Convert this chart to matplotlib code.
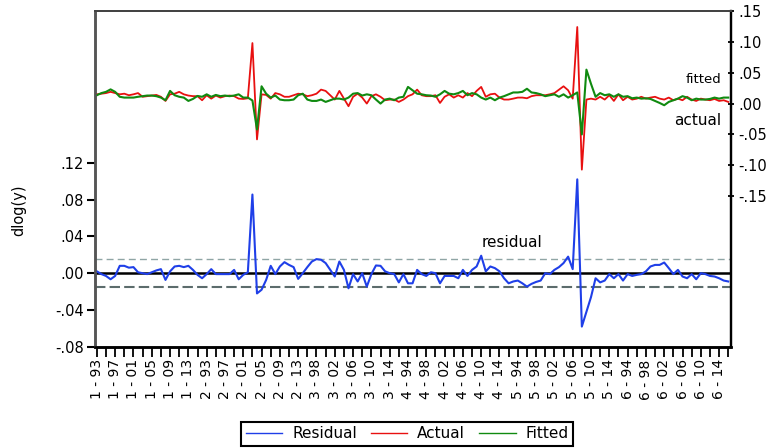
import matplotlib.pyplot as plt
import numpy as np

# panel: (cross-section id, first year, last year)
sections = [(1, 1993, 2016), (2, 1993, 2016), (3, 1998, 2016),
            (4, 1993, 2016), (5, 1993, 2016), (6, 1993, 2016)]

residual = [0.002, -0.001, -0.003, -0.0066, -0.003, 0.008, 0.008, 0.006, 0.0066, 0.001,
            0.0, -0.001, 0.001, 0.003, 0.0044, -0.0073, 0.002, 0.0073, 0.008, 0.0066,
            0.008, 0.0036, -0.0018, -0.0055, -0.001, 0.0044, -0.001, -0.001, -0.001, -0.001,
            0.0036, -0.0066, -0.0018, 0.001, 0.0855, -0.022, -0.018, -0.0073, 0.008, -0.001,
            0.0073, 0.012, 0.009, 0.0066, -0.0062, 0.0, 0.0066, 0.0127, 0.0153, 0.0146,
            0.011, 0.0036, -0.0036, 0.0127, 0.0036, -0.0164, -0.001, -0.009, 0.0, -0.0146,
            -0.001, 0.0084, 0.008, 0.002, 0.0, -0.001, -0.010, -0.001, -0.011, -0.011,
            0.0036, -0.001, -0.003, 0.001, 0.0, -0.011, -0.003, -0.003, -0.003, -0.0055,
            0.0036, -0.003, 0.0036, 0.0073, 0.019, 0.002, 0.0073, 0.0055, 0.002, -0.0055,
            -0.011, -0.009, -0.008, -0.011, -0.0146, -0.0116, -0.0095, -0.008, 0.0, -0.001,
            0.0036, 0.0066, 0.011, 0.018, 0.0044, 0.102, -0.058, -0.042, -0.026, -0.0055,
            -0.010, -0.008, -0.001, -0.0055, -0.001, -0.008, -0.001, -0.003, -0.0018, -0.001,
            0.002, 0.0073, 0.009, 0.009, 0.0116, 0.0055, -0.001, 0.0036, -0.0036, -0.0055,
            -0.001, -0.0066, 0.0, -0.001, -0.003, -0.0036, -0.0055, -0.008, -0.009]

actual = [0.015, 0.016, 0.017, 0.019, 0.017, 0.015, 0.016, 0.0135, 0.015, 0.017,
          0.011, 0.012, 0.013, 0.014, 0.011, 0.0043, 0.015, 0.016, 0.019, 0.015,
          0.013, 0.012, 0.012, 0.0054, 0.0135, 0.008, 0.013, 0.0097, 0.012, 0.013,
          0.012, 0.008, 0.0075, 0.0086, 0.098, -0.058, 0.015, 0.014, 0.008, 0.017,
          0.015, 0.011, 0.011, 0.0135, 0.016, 0.015, 0.012, 0.0135, 0.016, 0.0226,
          0.0205, 0.0135, 0.0065, 0.0205, 0.008, -0.0043, 0.011, 0.016, 0.0097, 0.0,
          0.012, 0.015, 0.011, 0.0054, 0.0065, 0.0065, 0.0027, 0.0065, 0.012, 0.015,
          0.0226, 0.0135, 0.012, 0.012, 0.0135, 0.001, 0.011, 0.015, 0.0097, 0.0135,
          0.0097, 0.017, 0.012, 0.0205, 0.027, 0.011, 0.015, 0.016, 0.0097, 0.0065,
          0.0065, 0.008, 0.0097, 0.0097, 0.0086, 0.012, 0.0135, 0.0135, 0.0135, 0.015,
          0.017, 0.0226, 0.028, 0.0216, 0.008, 0.124, -0.107, 0.0065, 0.008, 0.0065,
          0.011, 0.0065, 0.0135, 0.0043, 0.015, 0.0054, 0.011, 0.0065, 0.008, 0.011,
          0.008, 0.0097, 0.011, 0.008, 0.0065, 0.0097, 0.0054, 0.008, 0.0054, 0.011,
          0.0065, 0.0043, 0.008, 0.0065, 0.0054, 0.0075, 0.0043, 0.0054, 0.0027]

fitted = [0.0135, 0.017, 0.019, 0.023, 0.019, 0.011, 0.0097, 0.0097, 0.0097, 0.011,
          0.012, 0.013, 0.013, 0.012, 0.0097, 0.0054, 0.0205, 0.0135, 0.011, 0.0097,
          0.0043, 0.0075, 0.0124, 0.011, 0.015, 0.011, 0.014, 0.012, 0.013, 0.012,
          0.013, 0.015, 0.0097, 0.0097, 0.005, -0.042, 0.028, 0.016, 0.0097, 0.013,
          0.0065, 0.0054, 0.0054, 0.0065, 0.0135, 0.016, 0.0065, 0.0043, 0.0043, 0.0065,
          0.0027, 0.0054, 0.008, 0.008, 0.0065, 0.0097, 0.016, 0.017, 0.013, 0.015,
          0.0135, 0.0065, 0.0, 0.0065, 0.008, 0.0054, 0.0097, 0.011, 0.027, 0.0216,
          0.016, 0.015, 0.0135, 0.013, 0.011, 0.015, 0.0205, 0.016, 0.015, 0.017,
          0.0205, 0.0135, 0.017, 0.015, 0.0097, 0.0065, 0.0097, 0.0054, 0.0097, 0.012,
          0.015, 0.018, 0.018, 0.019, 0.024, 0.018, 0.017, 0.015, 0.012, 0.0135,
          0.015, 0.011, 0.015, 0.0097, 0.0135, 0.018, -0.05, 0.055, 0.032, 0.011,
          0.017, 0.0135, 0.015, 0.011, 0.015, 0.011, 0.012, 0.0086, 0.0097, 0.008,
          0.0086, 0.0075, 0.0043, 0.001, -0.0027, 0.0027, 0.0054, 0.008, 0.012, 0.0097,
          0.0054, 0.008, 0.0065, 0.0065, 0.0075, 0.0097, 0.008, 0.0097, 0.0097]

resid_se = 0.0155          # +/- 1 S.E. band

left_ticks = [-0.08, -0.04, 0.0, 0.04, 0.08, 0.12]
left_labels = ['-.08', '-.04', '.00', '.04', '.08', '.12']
right_ticks = [-0.15, -0.10, -0.05, 0.0, 0.05, 0.10, 0.15]
right_labels = ['-.15', '-.10', '-.05', '.00', '.05', '.10', '.15']

# observation labels like "1 - 93"
obs_labels = []
for sid, y0, y1 in sections:
    for yr in range(y0, y1 + 1):
        obs_labels.append('%d - %02d' % (sid, yr % 100))
x = np.arange(len(obs_labels))

fig = plt.figure(figsize=(7.77, 4.48), dpi=100)
ax = fig.add_axes([0.1223, 0.2259, 0.8185, 0.7496])
ax2 = ax.twinx()

BLUE = '#1f3fe8'
RED = '#e81010'
GREEN = '#108a10'

ax.axhline(0, color='black', lw=1.8, zorder=1)
ax.axhline(resid_se, color='#8fa5a5', lw=1.0, ls=(0, (5, 3)), zorder=1)
ax.axhline(-resid_se, color='#5c6c6c', lw=1.5, ls=(0, (5, 2)), zorder=1)
l1, = ax.plot(x, residual, color=BLUE, lw=1.5, zorder=3)
l2, = ax2.plot(x, actual, color=RED, lw=1.3)
l3, = ax2.plot(x, fitted, color=GREEN, lw=1.5)

ax.set_xlim(-0.4, 138.6)
ax.set_ylim(-0.08, 0.285)
ax2.set_ylim(-0.394, 0.15)

ax.set_yticks(left_ticks)
ax.set_yticklabels(left_labels)
ax2.set_yticks(right_ticks)
ax2.set_yticklabels(right_labels)
ax.set_xticks(x[::2], minor=False)
ax.set_xticklabels([lab if i % 4 == 0 else '' for i, lab in enumerate(obs_labels)][::2],
                   rotation=90)

ax.tick_params(axis='y', direction='out', length=6, width=1.5, labelsize=10.5, pad=2)
ax.tick_params(axis='x', direction='out', length=7, width=1.3, labelsize=10, pad=2)
ax2.tick_params(axis='y', direction='inout', length=5, width=1.3, labelsize=10.5, pad=3)

for a in (ax, ax2):
    a.spines['left'].set_color('#555555')
    a.spines['left'].set_linewidth(1.8)
    a.spines['top'].set_color('#444444')
    a.spines['top'].set_linewidth(1.4)
    a.spines['bottom'].set_linewidth(1.8)
    a.spines['right'].set_linewidth(1.6)

ax.set_ylabel('dlog(y)', fontsize=10.5)
ax.yaxis.set_label_coords(-0.108, 0.407)

ax2.text(0.985, 0.795, 'fitted', transform=ax.transAxes, ha='right', va='center', fontsize=9.5)
ax2.text(0.985, 0.675, 'actual', transform=ax.transAxes, ha='right', va='center', fontsize=11)
ax.text(0.655, 0.31, 'residual', transform=ax.transAxes, ha='center', va='center', fontsize=11)

leg = fig.legend([l1, l2, l3], ['Residual', 'Actual', 'Fitted'], ncol=3,
                 loc='center', bbox_to_anchor=(0.524, 0.032), fontsize=11,
                 fancybox=False, edgecolor='black', framealpha=1,
                 handlelength=2.4, columnspacing=0.9, borderpad=0.3, handletextpad=0.65)
leg.get_frame().set_linewidth(1.5)
for h in leg.get_lines():
    h.set_linewidth(1.0)

plt.savefig('out.png', dpi=100)
